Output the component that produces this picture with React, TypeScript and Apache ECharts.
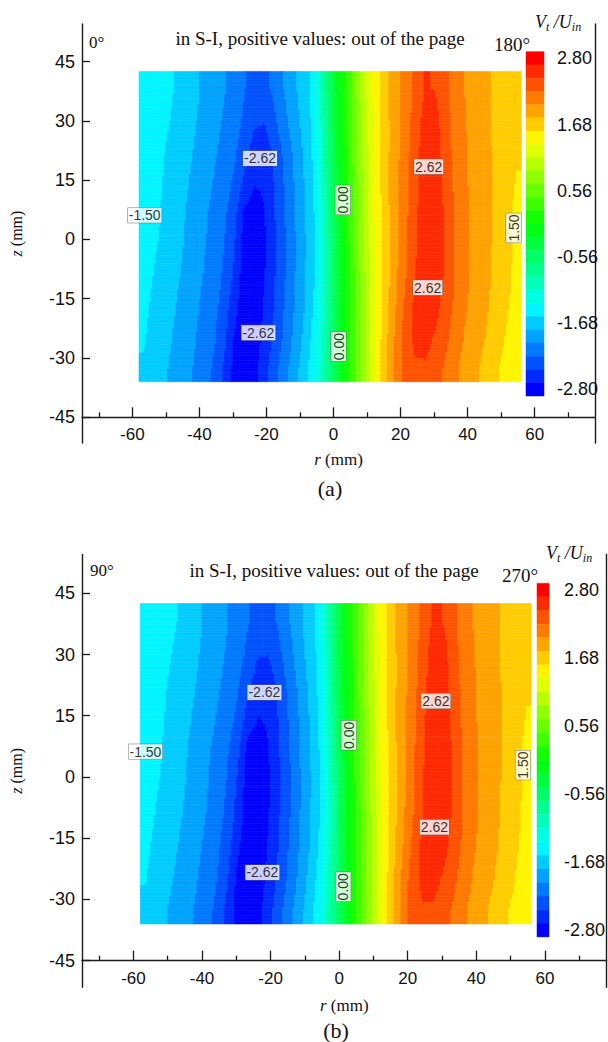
import React, { useEffect, useRef } from "react";
import * as echarts from "echarts";

// ---------- data ----------
const rEdges = [-58, -55, -52, -49, -46, -43, -40, -37, -34, -31, -28, -25, -22, -19, -16, -13, -10, -7, -4, -1, 2, 5, 8, 11, 14, 17, 20, 23, 26, 29, 32, 35, 38, 41, 44, 47, 50, 53, 56];
const zEdges = [42.5, 34, 26, 18, 10, 2, -6, -14, -22, -30, -36];

// panel (a): rows from top (z≈38) to bottom (z≈-33), columns r = -56.5 ... 54.5
const vtA = [
  [-1.40, -1.42, -1.48, -1.57, -1.66, -1.74, -1.83, -1.92, -2.00, -2.10, -2.23, -2.32, -2.32, -2.18, -2.00, -1.83, -1.66, -1.45, -0.80, -0.25, 0.15, 0.65, 1.10, 1.45, 1.72, 1.92, 2.10, 2.30, 2.48, 2.45, 2.30, 2.12, 2.00, 1.92, 1.83, 1.75, 1.66, 1.58],
  [-1.42, -1.45, -1.52, -1.60, -1.68, -1.77, -1.86, -1.95, -2.04, -2.14, -2.28, -2.42, -2.45, -2.28, -2.08, -1.88, -1.70, -1.48, -0.85, -0.30, 0.12, 0.60, 1.05, 1.42, 1.70, 1.92, 2.12, 2.34, 2.56, 2.55, 2.32, 2.14, 2.02, 1.92, 1.83, 1.75, 1.66, 1.58],
  [-1.44, -1.48, -1.56, -1.64, -1.72, -1.80, -1.90, -1.99, -2.08, -2.20, -2.38, -2.58, -2.60, -2.40, -2.18, -1.96, -1.75, -1.50, -0.90, -0.32, 0.10, 0.58, 1.02, 1.40, 1.70, 1.92, 2.14, 2.38, 2.60, 2.60, 2.36, 2.16, 2.03, 1.93, 1.84, 1.76, 1.67, 1.58],
  [-1.42, -1.50, -1.58, -1.66, -1.75, -1.84, -1.94, -2.03, -2.14, -2.28, -2.52, -2.68, -2.66, -2.45, -2.22, -2.00, -1.78, -1.52, -0.95, -0.35, 0.08, 0.55, 1.00, 1.40, 1.70, 1.94, 2.16, 2.40, 2.60, 2.60, 2.40, 2.18, 2.04, 1.94, 1.84, 1.76, 1.66, 1.56],
  [-1.38, -1.50, -1.60, -1.68, -1.78, -1.88, -1.98, -2.08, -2.20, -2.38, -2.75, -2.80, -2.70, -2.48, -2.25, -2.02, -1.80, -1.55, -1.00, -0.40, 0.05, 0.52, 0.98, 1.38, 1.68, 1.94, 2.18, 2.42, 2.62, 2.62, 2.42, 2.20, 2.05, 1.95, 1.85, 1.76, 1.65, 1.52],
  [-1.42, -1.54, -1.62, -1.70, -1.80, -1.90, -2.00, -2.10, -2.24, -2.45, -2.80, -2.82, -2.72, -2.50, -2.28, -2.05, -1.82, -1.58, -1.05, -0.45, 0.02, 0.50, 0.95, 1.36, 1.66, 1.94, 2.18, 2.44, 2.63, 2.62, 2.44, 2.22, 2.06, 1.95, 1.85, 1.75, 1.64, 1.52],
  [-1.48, -1.58, -1.66, -1.74, -1.83, -1.93, -2.03, -2.14, -2.28, -2.52, -2.82, -2.82, -2.70, -2.48, -2.26, -2.03, -1.80, -1.56, -1.05, -0.48, 0.00, 0.48, 0.93, 1.35, 1.66, 1.96, 2.22, 2.47, 2.63, 2.60, 2.42, 2.22, 2.06, 1.94, 1.84, 1.74, 1.63, 1.52],
  [-1.52, -1.62, -1.70, -1.78, -1.87, -1.97, -2.07, -2.18, -2.35, -2.62, -2.84, -2.82, -2.66, -2.45, -2.22, -2.00, -1.78, -1.52, -1.02, -0.48, -0.02, 0.45, 0.92, 1.35, 1.68, 2.00, 2.30, 2.54, 2.62, 2.54, 2.35, 2.18, 2.03, 1.92, 1.82, 1.72, 1.60, 1.48],
  [-1.55, -1.65, -1.73, -1.81, -1.90, -2.00, -2.10, -2.22, -2.42, -2.72, -2.84, -2.80, -2.62, -2.40, -2.18, -1.95, -1.72, -1.45, -0.95, -0.45, -0.02, 0.45, 0.92, 1.36, 1.72, 2.05, 2.34, 2.52, 2.54, 2.42, 2.28, 2.12, 1.98, 1.88, 1.78, 1.68, 1.55, 1.42],
  [-1.60, -1.68, -1.76, -1.84, -1.93, -2.03, -2.14, -2.28, -2.50, -2.76, -2.82, -2.76, -2.55, -2.32, -2.10, -1.88, -1.66, -1.40, -0.90, -0.42, 0.00, 0.45, 0.92, 1.38, 1.75, 2.08, 2.32, 2.42, 2.42, 2.35, 2.20, 2.05, 1.92, 1.82, 1.72, 1.60, 1.48, 1.35],
];

// panel (b)
const vtB = [
  [-1.38, -1.42, -1.48, -1.56, -1.65, -1.74, -1.83, -1.92, -2.01, -2.10, -2.22, -2.34, -2.34, -2.20, -2.02, -1.84, -1.66, -1.45, -0.82, -0.28, 0.12, 0.62, 1.08, 1.44, 1.72, 1.92, 2.10, 2.30, 2.50, 2.46, 2.30, 2.12, 2.00, 1.92, 1.83, 1.75, 1.66, 1.58],
  [-1.40, -1.45, -1.52, -1.60, -1.68, -1.77, -1.86, -1.95, -2.04, -2.14, -2.30, -2.45, -2.46, -2.30, -2.10, -1.90, -1.70, -1.48, -0.86, -0.30, 0.10, 0.60, 1.05, 1.42, 1.70, 1.92, 2.12, 2.35, 2.57, 2.55, 2.32, 2.14, 2.02, 1.92, 1.83, 1.75, 1.66, 1.58],
  [-1.43, -1.48, -1.56, -1.64, -1.72, -1.80, -1.90, -1.99, -2.08, -2.22, -2.42, -2.60, -2.60, -2.40, -2.18, -1.96, -1.75, -1.50, -0.90, -0.32, 0.10, 0.58, 1.02, 1.40, 1.70, 1.92, 2.14, 2.38, 2.61, 2.60, 2.36, 2.16, 2.03, 1.93, 1.84, 1.76, 1.67, 1.58],
  [-1.42, -1.50, -1.58, -1.66, -1.75, -1.84, -1.94, -2.03, -2.14, -2.30, -2.58, -2.70, -2.66, -2.45, -2.22, -2.00, -1.78, -1.52, -0.95, -0.35, 0.08, 0.55, 1.00, 1.40, 1.70, 1.94, 2.16, 2.42, 2.62, 2.60, 2.40, 2.18, 2.04, 1.94, 1.84, 1.76, 1.66, 1.56],
  [-1.36, -1.50, -1.60, -1.68, -1.78, -1.88, -1.98, -2.08, -2.22, -2.42, -2.78, -2.80, -2.70, -2.48, -2.25, -2.02, -1.80, -1.55, -1.00, -0.40, 0.05, 0.52, 0.98, 1.38, 1.68, 1.94, 2.18, 2.44, 2.63, 2.62, 2.42, 2.20, 2.05, 1.95, 1.85, 1.76, 1.65, 1.52],
  [-1.40, -1.54, -1.62, -1.70, -1.80, -1.90, -2.00, -2.12, -2.26, -2.50, -2.82, -2.82, -2.72, -2.50, -2.28, -2.05, -1.82, -1.58, -1.05, -0.45, 0.02, 0.50, 0.95, 1.36, 1.66, 1.94, 2.18, 2.46, 2.64, 2.62, 2.44, 2.22, 2.06, 1.95, 1.85, 1.75, 1.64, 1.52],
  [-1.48, -1.58, -1.66, -1.74, -1.83, -1.93, -2.03, -2.15, -2.30, -2.56, -2.83, -2.82, -2.70, -2.48, -2.26, -2.03, -1.80, -1.56, -1.05, -0.48, 0.00, 0.48, 0.93, 1.35, 1.66, 1.96, 2.22, 2.48, 2.63, 2.60, 2.42, 2.22, 2.06, 1.94, 1.84, 1.74, 1.63, 1.52],
  [-1.52, -1.62, -1.70, -1.78, -1.87, -1.97, -2.07, -2.20, -2.38, -2.66, -2.84, -2.82, -2.66, -2.45, -2.22, -2.00, -1.78, -1.52, -1.02, -0.48, -0.02, 0.45, 0.92, 1.35, 1.68, 2.00, 2.30, 2.55, 2.62, 2.54, 2.35, 2.18, 2.03, 1.92, 1.82, 1.72, 1.60, 1.48],
  [-1.56, -1.66, -1.74, -1.82, -1.91, -2.01, -2.12, -2.25, -2.46, -2.76, -2.84, -2.80, -2.62, -2.40, -2.18, -1.95, -1.72, -1.45, -0.95, -0.45, -0.02, 0.45, 0.92, 1.36, 1.74, 2.08, 2.36, 2.53, 2.54, 2.42, 2.28, 2.12, 1.98, 1.88, 1.78, 1.68, 1.56, 1.44],
  [-1.62, -1.70, -1.78, -1.86, -1.95, -2.05, -2.16, -2.30, -2.54, -2.78, -2.82, -2.76, -2.55, -2.32, -2.10, -1.88, -1.66, -1.40, -0.90, -0.42, 0.00, 0.45, 0.92, 1.38, 1.76, 2.10, 2.34, 2.44, 2.42, 2.35, 2.20, 2.05, 1.92, 1.82, 1.72, 1.60, 1.50, 1.38],
];

// contour labels
const labelRA = [-21.9, 28.4, 2.8, -56.3, 53.7, 28.1, -22.4, 1.5];
const labelZA = [20.5, 18.4, 10.0, 6.1, 2.9, -12.2, -23.6, -27.1];
const labelRB = [-21.8, 28.2, 2.8, -56.5, 53.6, 27.8, -22.4, 1.2];
const labelZB = [20.7, 18.6, 10.2, 6.2, 2.9, -12.3, -23.4, -26.9];
const labelText = ["-2.62", "2.62", "0.00", "-1.50", "1.50", "2.62", "-2.62", "0.00"];
const labelRot = [0, 0, 90, 0, 90, 0, 0, 90];

const rTicks = [-60, -40, -20, 0, 20, 40, 60];
const rMinorTicks = [-70, -50, -30, -10, 10, 30, 50, 70];
const zTicks = [-45, -30, -15, 0, 15, 30, 45];
const bandCenters = [2.8, 2.576, 2.352, 2.128, 1.904, 1.68, 1.456, 1.232, 1.008, 0.784, 0.56, 0.336, 0.112, -0.112, -0.336, -0.56, -0.784, -1.008, -1.232, -1.456, -1.68, -1.904, -2.128, -2.352, -2.576, -2.8];
const cbarTicks = [2.8, 1.68, 0.56, -0.56, -1.68, -2.8];

// ---------- helpers ----------
const SANS = '"Liberation Sans", Arial, Helvetica, sans-serif';
const SERIF = '"Liberation Serif", "Times New Roman", serif';
const BAND_HALF = 0.112;

function rainbow(v: number) {
  const t = Math.min(1, Math.max(0, (v + 2.8) / 5.6));
  let r = 0, g = 0, b = 0;
  if (t < 0.25) { r = 0; g = 255 * t * 4; b = 255; }
  else if (t < 0.5) { r = 0; g = 255; b = 255 * (1 - (t - 0.25) * 4); }
  else if (t < 0.75) { r = 255 * (t - 0.5) * 4; g = 255; b = 0; }
  else { r = 255; g = 255 * (1 - (t - 0.75) * 4); b = 0; }
  return `rgb(${Math.round(r)},${Math.round(g)},${Math.round(b)})`;
}
const bandColors = bandCenters.map(rainbow);
function bandColor(v: number) {
  let k = Math.round((bandCenters[0] - v) / (2 * BAND_HALF));
  k = Math.max(0, Math.min(bandCenters.length - 1, k));
  return bandColors[k];
}

const rC = rEdges.slice(0, -1).map((e, i) => (e + rEdges[i + 1]) / 2);
const zC = zEdges.slice(0, -1).map((e, j) => (e + zEdges[j + 1]) / 2);

function sampleField(rows: number[][], r: number, z: number) {
  let i = 0;
  while (i < rC.length - 2 && r > rC[i + 1]) i++;
  let tr = (r - rC[i]) / (rC[i + 1] - rC[i]);
  tr = Math.max(0, Math.min(1, tr));
  let j = 0;
  while (j < zC.length - 2 && z < zC[j + 1]) j++;
  let tz = (zC[j] - z) / (zC[j] - zC[j + 1]);
  tz = Math.max(0, Math.min(1, tz));
  const a = rows[j][i], b = rows[j][i + 1], c = rows[j + 1][i], d = rows[j + 1][i + 1];
  return (a * (1 - tr) + b * tr) * (1 - tz) + (c * (1 - tr) + d * tr) * tz;
}

function cells(rows: number[][]) {
  const out: number[][] = [];
  rows.forEach((row, j) => {
    row.forEach((v, i) => {
      out.push([rEdges[i], rEdges[i + 1], zEdges[j + 1], zEdges[j], v]);
    });
  });
  return out;
}

// filled-contour rendering of each cell, through the axis scales
const makeRenderCell = (rows: number[][]) => (params: any, api: any) => {
  const r0 = api.value(0), r1 = api.value(1), z0 = api.value(2), z1 = api.value(3);
  const nx = 6;
  const ny = Math.max(1, Math.round((z1 - z0) * 1.5));
  const children: any[] = [];
  for (let b = 0; b < ny; b++) {
    const za = z1 - ((z1 - z0) * b) / ny;
    const zb = z1 - ((z1 - z0) * (b + 1)) / ny;
    const zm = (za + zb) / 2;
    let runStart = 0;
    let runColor: string | null = null;
    for (let a = 0; a <= nx; a++) {
      let col: string | null = null;
      if (a < nx) {
        const rm = r0 + ((r1 - r0) * (a + 0.5)) / nx;
        col = bandColor(sampleField(rows, rm, zm));
      }
      if (a === nx || col !== runColor) {
        if (runColor !== null) {
          const ra = r0 + ((r1 - r0) * runStart) / nx;
          const rb = r0 + ((r1 - r0) * a) / nx;
          const p0 = api.coord([ra, za]);
          const p1 = api.coord([rb, zb]);
          children.push({
            type: "rect",
            shape: { x: p0[0], y: p0[1], width: p1[0] - p0[0], height: p1[1] - p0[1] },
            style: { fill: runColor, stroke: runColor, lineWidth: 0.6 },
          });
        }
        runStart = a;
        runColor = col;
      }
    }
  }
  return { type: "group", children };
};

const renderBand = (params: any, api: any) => {
  const c = api.value(1);
  const p0 = api.coord([0, c + BAND_HALF]);
  const p1 = api.coord([1, c - BAND_HALF]);
  const col = bandColor(c);
  return {
    type: "rect",
    shape: { x: p0[0], y: p0[1], width: p1[0] - p0[0], height: p1[1] - p0[1] },
    style: { fill: col, stroke: col, lineWidth: 0.5 },
  };
};

const Y_MIN = -51.5;
const Y_MAX = 54.5;
const X_MIN = -75;
const X_MAX = 78;

type Panel = {
  left: number; top: number; width: number; height: number;
  cbLeft: number; cbTop: number; cbH: number; cbW: number; cbGap: number;
  nameGapX: number; nameGapY: number;
  rows: number[][]; labR: number[]; labZ: number[];
  angL: string; angLx: number; angLy: number;
  angR: string; angRx: number; angRy: number;
  titleX: number; titleY: number; vuX: number; vuY: number;
  tag: string; tagX: number; tagY: number;
};

const panels: Panel[] = [
  {
    left: 77, top: 24, width: 518, height: 419,
    cbLeft: 526, cbTop: 51.7, cbH: 344.3, cbW: 18, cbGap: 13,
    nameGapX: 34, nameGapY: 58,
    rows: vtA, labR: labelRA, labZ: labelZA,
    angL: "0°", angLx: 89, angLy: 42, angR: "180°", angRx: 494, angRy: 44,
    titleX: 320, titleY: 38, vuX: 535, vuY: 22,
    tag: "(a)", tagX: 330, tagY: 488,
  },
  {
    left: 76.4, top: 554.5, width: 530.2, height: 432.7,
    cbLeft: 537, cbTop: 583.3, cbH: 353.6, cbW: 18, cbGap: 15,
    nameGapX: 36, nameGapY: 58,
    rows: vtB, labR: labelRB, labZ: labelZB,
    angL: "90°", angLx: 90, angLy: 570, angR: "270°", angRx: 502, angRy: 575,
    titleX: 334, titleY: 570, vuX: 546, vuY: 553,
    tag: "(b)", tagX: 336, tagY: 1030,
  },
];

function buildOption() {
  const grid: any[] = [];
  const xAxis: any[] = [];
  const yAxis: any[] = [];
  const series: any[] = [];
  const graphic: any[] = [];
  const axisColor = "#1a1a1a";

  panels.forEach((p) => {
    // main plot grid
    const g = grid.length;
    grid.push({ left: p.left, top: p.top, width: p.width, height: p.height });
    const pxPerZ = p.height / (Y_MAX - Y_MIN);
    const xOffset = -(-45 - Y_MIN) * pxPerZ;

    const xMain = xAxis.length;
    xAxis.push({
      type: "value", gridIndex: g, min: X_MIN, max: X_MAX, position: "bottom", offset: xOffset,
      axisLine: { show: true, onZero: false, lineStyle: { color: axisColor, width: 1.4 } },
      axisTick: { show: true, inside: true, length: 10, customValues: rTicks, lineStyle: { color: axisColor, width: 1.3 } },
      axisLabel: { show: true, customValues: rTicks, margin: 9, fontSize: 17, color: "#111", fontFamily: SANS },
      splitLine: { show: false },
      name: "{i|r} (mm)", nameLocation: "middle", nameGap: p.nameGapX,
      nameTextStyle: { fontFamily: SERIF, fontSize: 17, color: "#111", rich: { i: { fontStyle: "italic", fontFamily: SERIF, fontSize: 17 } } },
    });
    xAxis.push({
      type: "value", gridIndex: g, min: X_MIN, max: X_MAX, position: "bottom", offset: xOffset,
      axisLine: { show: false, onZero: false },
      axisTick: { show: true, inside: true, length: 5, customValues: rMinorTicks, lineStyle: { color: axisColor, width: 1.3 } },
      axisLabel: { show: false },
      splitLine: { show: false },
    });
    const yMain = yAxis.length;
    yAxis.push({
      type: "value", gridIndex: g, min: Y_MIN, max: Y_MAX, position: "left",
      axisLine: { show: true, onZero: false, lineStyle: { color: axisColor, width: 1.4 } },
      axisTick: { show: true, inside: true, length: 8, customValues: zTicks, lineStyle: { color: axisColor, width: 1.3 } },
      axisLabel: { show: true, customValues: zTicks, margin: 7, fontSize: 18, color: "#111", fontFamily: SANS },
      splitLine: { show: false },
      name: "{i|z} (mm)", nameLocation: "middle", nameGap: p.nameGapY, nameRotate: 90,
      nameTextStyle: { fontFamily: SERIF, fontSize: 16, color: "#111", rich: { i: { fontStyle: "italic", fontFamily: SERIF, fontSize: 16 } } },
    });
    yAxis.push({
      type: "value", gridIndex: g, min: Y_MIN, max: Y_MAX, position: "right",
      axisLine: { show: true, onZero: false, lineStyle: { color: axisColor, width: 1.4 } },
      axisTick: { show: false }, axisLabel: { show: false }, splitLine: { show: false },
    });

    series.push({
      type: "custom", xAxisIndex: xMain, yAxisIndex: yMain,
      data: cells(p.rows), encode: { x: [0, 1], y: [2, 3] },
      renderItem: makeRenderCell(p.rows), clip: true, silent: true, z: 2,
    });
    series.push({
      type: "scatter", xAxisIndex: xMain, yAxisIndex: yMain, silent: true, z: 5,
      symbolSize: 1, itemStyle: { color: "rgba(0,0,0,0)" },
      data: p.labR.map((r, i) => ({
        value: [r, p.labZ[i]],
        label: { formatter: labelText[i], rotate: labelRot[i] },
      })),
      label: {
        show: true, position: "inside", fontSize: 14, color: "#000", fontFamily: SANS,
        backgroundColor: "#fff", padding: [1, 1, 0, 1], borderColor: "#666", borderWidth: 0.5,
      },
    });

    // colour bar grid
    const gc = grid.length;
    grid.push({ left: p.cbLeft, top: p.cbTop, width: p.cbW, height: p.cbH });
    const xc = xAxis.length;
    xAxis.push({ type: "value", gridIndex: gc, min: 0, max: 1, show: false });
    const yc = yAxis.length;
    yAxis.push({
      type: "value", gridIndex: gc, min: bandCenters[bandCenters.length - 1] - BAND_HALF, max: bandCenters[0] + BAND_HALF,
      position: "right",
      axisLine: { show: false, onZero: false }, axisTick: { show: false }, splitLine: { show: false },
      axisLabel: {
        show: true, customValues: cbarTicks, margin: p.cbGap, fontSize: 18, color: "#111", fontFamily: SANS,
        formatter: (v: number) => v.toFixed(2),
      },
    });
    series.push({
      type: "custom", xAxisIndex: xc, yAxisIndex: yc, silent: true, z: 2,
      data: bandCenters.map((c) => [0.5, c]), encode: { x: 0, y: 1 },
      renderItem: renderBand,
    });

    const txt = (text: string, x: number, y: number, font: string, align = "left") => ({
      type: "text", x, y, silent: true,
      style: { text, font, fill: "#111", align, verticalAlign: "middle" },
    });
    graphic.push(txt(p.angL, p.angLx, p.angLy, `17px ${SERIF}`));
    graphic.push(txt("in S-I, positive values: out of the page", p.titleX, p.titleY, `19px ${SERIF}`, "center"));
    graphic.push(txt(p.angR, p.angRx, p.angRy, `19px ${SERIF}`));
    graphic.push({
      type: "text", x: p.vuX, y: p.vuY, silent: true,
      style: {
        text: "{i|V}{s|t}{n| /}{i|U}{s|in}", verticalAlign: "middle", fill: "#111",
        font: `18px ${SERIF}`,
        rich: {
          i: { fontStyle: "italic", fontFamily: SERIF, fontSize: 18, fill: "#111" },
          s: { fontStyle: "italic", fontFamily: SERIF, fontSize: 12, fill: "#111", padding: [10, 0, 0, 0] },
          n: { fontStyle: "italic", fontFamily: SERIF, fontSize: 18, fill: "#111" },
        },
      },
    });
    graphic.push(txt(p.tag, p.tagX, p.tagY, `22px ${SERIF}`, "center"));
  });

  return { animation: false, backgroundColor: "#ffffff", grid, xAxis, yAxis, series, graphic };
}

export default function App() {
  const ref = useRef<HTMLDivElement>(null);
  useEffect(() => {
    if (!ref.current) return;
    const chart = echarts.init(ref.current, undefined, { renderer: "svg" });
    chart.setOption(buildOption() as any);
    return () => chart.dispose();
  }, []);
  return <div ref={ref} style={{ width: 608, height: 1042, position: "absolute", left: 0, top: 0 }} />;
}
